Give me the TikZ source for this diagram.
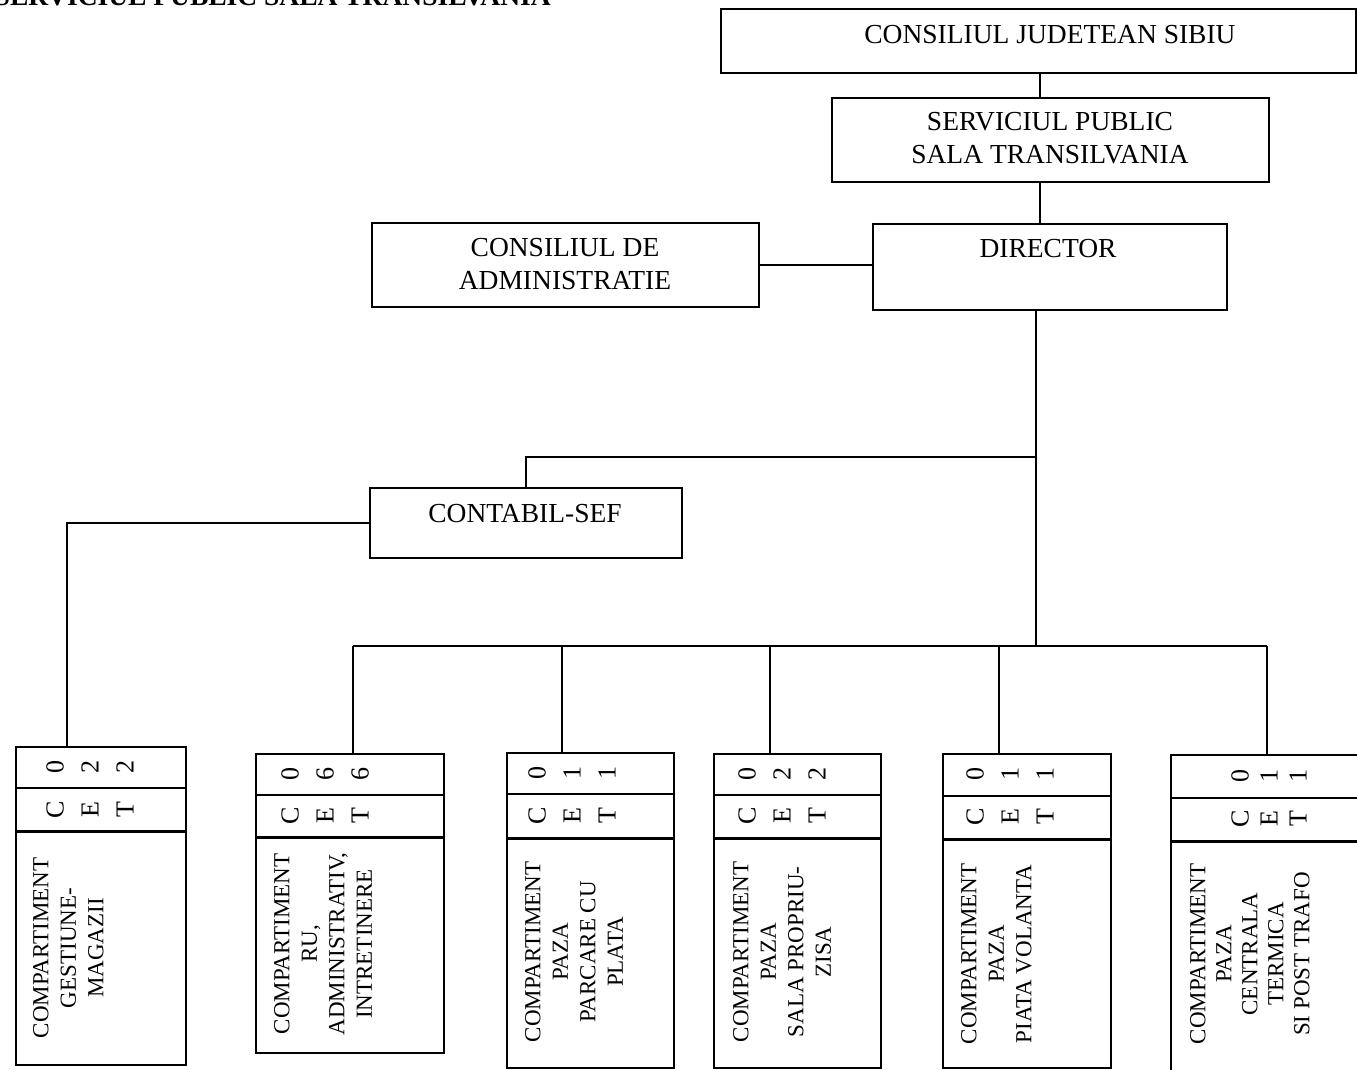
\documentclass[tikz,border=0pt]{standalone}
\usepackage{fontspec}
\setmainfont{Liberation Serif}
\newcommand\fsz[2]{\fontsize{#1}{#2}\selectfont}
\begin{document}
\begin{tikzpicture}[x=1pt,y=-1pt,
  box/.style={draw, line width=1.5pt, inner sep=0pt, anchor=north west},
  conn/.style={line width=1.5pt},
  divider/.style={line width=1.4pt},
  divthick/.style={line width=3pt},
  head/.style={font=\fsz{27.5}{33}, align=center, inner sep=0pt},
  vtext/.style={font=\fsz{23}{27.5}, align=center, rotate=90, anchor=north, inner sep=0pt},
  vtextb/.style={font=\fsz{23}{26}, align=center, rotate=90, anchor=north, inner sep=0pt},
  code/.style={font=\fsz{26}{35}, align=center, rotate=90, inner sep=0pt}]
\path[use as bounding box, clip] (0,0) rectangle (1357,1069);
\fill[white] (0,0) rectangle (1357,1069);

% title (cut at top edge)
\node[anchor=base east, font=\bfseries\fsz{27.5}{33}, inner sep=0pt] (title) at (551,5) {SERVICIUL PUBLIC SALA TRANSILVANIA};

% upper boxes
\node[box, minimum width=635, minimum height=64] (cjs) at (720,8) {};
\node[head] (cjst) at (1050,35) {CONSILIUL JUDETEAN SIBIU};
\node[box, minimum width=437, minimum height=84] (sp) at (831,97) {};
\node[head] (spt) at (1050,138) {SERVICIUL PUBLIC\\SALA TRANSILVANIA};
\node[box, minimum width=354, minimum height=86] (dir) at (872,223) {};
\node[head] (dirt) at (1048,249) {DIRECTOR};
\node[box, minimum width=387, minimum height=84] (ca) at (371,222) {};
\node[head] (cat) at (565,264) {CONSILIUL DE\\ADMINISTRATIE};
\node[box, minimum width=312, minimum height=70] (cs) at (369,487) {};
\node[head] (cst) at (525,514) {CONTABIL-SEF};

% bottom boxes
\node[box, minimum width=170, minimum height=318] (b1) at (15,746) {};
\node[box, minimum width=188, minimum height=299] (b2) at (255,753) {};
\node[box, minimum width=167, minimum height=315] (b3) at (506,752) {};
\node[box, minimum width=167, minimum height=314] (b4) at (713,753) {};
\node[box, minimum width=168, minimum height=314] (b5) at (942,753) {};
\node[box, minimum width=230, minimum height=330] (b6) at (1170,754) {};

% dividers
\draw[divider] (b1.west |- 0,788) -- (b1.east |- 0,788);
\draw[divthick] (b1.west |- 0,831) -- (b1.east |- 0,831);
\draw[divider] (b2.west |- 0,795) -- (b2.east |- 0,795);
\draw[divthick] (b2.west |- 0,837) -- (b2.east |- 0,837);
\draw[divider] (b3.west |- 0,794) -- (b3.east |- 0,794);
\draw[divthick] (b3.west |- 0,838) -- (b3.east |- 0,838);
\draw[divider] (b4.west |- 0,795) -- (b4.east |- 0,795);
\draw[divthick] (b4.west |- 0,838) -- (b4.east |- 0,838);
\draw[divider] (b5.west |- 0,796) -- (b5.east |- 0,796);
\draw[divthick] (b5.west |- 0,839) -- (b5.east |- 0,839);
\draw[divider] (b6.west |- 0,798) -- (b6.east |- 0,798);
\draw[divthick] (b6.west |- 0,841) -- (b6.east |- 0,841);

% code cells
\node[code] (c1a) at (90,767) {0\\2\\2};
\node[code] (c1b) at (90,810) {C\\E\\T};
\node[code] (c2a) at (325,774) {0\\6\\6};
\node[code] (c2b) at (325,816) {C\\E\\T};
\node[code] (c3a) at (572,773) {0\\1\\1};
\node[code] (c3b) at (572,816) {C\\E\\T};
\node[code] (c4a) at (782,774) {0\\2\\2};
\node[code] (c4b) at (782,816) {C\\E\\T};
\node[code] (c5a) at (1010,774) {0\\1\\1};
\node[code] (c5b) at (1010,817) {C\\E\\T};
\node[code, font=\fsz{26}{29}] (c6a) at (1269,776) {0\\1\\1};
\node[code, font=\fsz{26}{29}] (c6b) at (1269,819) {C\\E\\T};

% vertical texts
\node[vtext] (t1) at (33,948) {COMPARTIMENT\\GESTIUNE-\\MAGAZII};
\node[vtext] (t2) at (274,944) {COMPARTIMENT\\RU,\\ADMINISTRATIV,\\INTRETINERE};
\node[vtext] (t3) at (525,952) {COMPARTIMENT\\PAZA\\PARCARE CU\\PLATA};
\node[vtext] (t4) at (733,952) {COMPARTIMENT\\PAZA\\SALA PROPRIU-\\ZISA};
\node[vtext] (t5) at (961,954) {COMPARTIMENT\\PAZA\\PIATA VOLANTA};
\node[vtextb] (t6) at (1190,954) {COMPARTIMENT\\PAZA\\CENTRALA\\TERMICA\\SI POST TRAFO};

% connectors
\coordinate (xa) at (1040,0);
\draw[conn] (xa |- cjs.south) -- (xa |- sp.north);
\draw[conn] (xa |- sp.south) -- (xa |- dir.north);
\draw[conn] (ca.east) -- (ca.east -| dir.west);
\coordinate (tx) at (1036,0);
\coordinate (j1) at (1036,457);
\coordinate (j2) at (526,457);
\coordinate (busL) at (353,646);
\coordinate (busR) at (1267,646);
\draw[conn] (tx |- dir.south) -- (tx |- busL);
\draw[conn] (j1) -- (j2) -- (j2 |- cs.north);
\coordinate (d1) at (67,0);
\draw[conn] (cs.west) -| (d1 |- b1.north);
\draw[conn] (busL) -- (busR);
\coordinate (d3) at (562,646);
\coordinate (d4) at (770,646);
\coordinate (d5) at (999,646);
\draw[conn] (busL) -- (busL |- b2.north);
\draw[conn] (d3) -- (d3 |- b3.north);
\draw[conn] (d4) -- (d4 |- b4.north);
\draw[conn] (d5) -- (d5 |- b5.north);
\draw[conn] (busR) -- (busR |- b6.north);
\end{tikzpicture}
\end{document}
